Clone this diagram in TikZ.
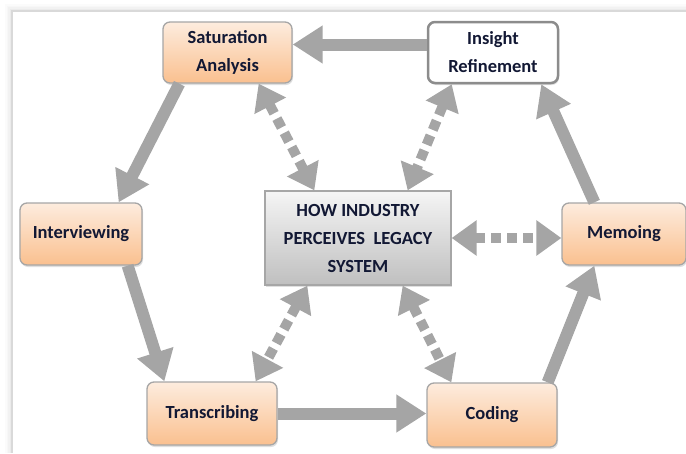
\documentclass[tikz,border=0pt]{standalone}
\usepackage{fontspec}
\setmainfont{Carlito}
\usepackage{tikz}
\usetikzlibrary{arrows.meta,shadows}
\definecolor{boxorange}{RGB}{250,192,143}
\definecolor{boxpale}{RGB}{253,236,222}
\definecolor{boxedge}{RGB}{166,166,166}
\definecolor{arrowgray}{RGB}{165,165,165}
\definecolor{textnavy}{RGB}{18,24,52}
\tikzset{
  stepbox/.style={rectangle, rounded corners=7pt, draw=boxedge, line width=1.3pt,
    top color=boxpale, bottom color=boxorange, text=textnavy, align=center,
    font=\fontsize{18.5}{28}\selectfont\bfseries,
    drop shadow={opacity=0.25, shadow xshift=1pt, shadow yshift=-2pt}},
  flow/.style={draw=arrowgray, line width=12pt,
    -{Triangle[length=30pt,width=36pt]}, arrowgray},
  link/.style={draw=arrowgray, line width=10pt, dash pattern=on 10pt off 6pt,
    {Triangle[length=25pt,width=34pt]}-{Triangle[length=25pt,width=34pt]}, arrowgray}
}
\begin{document}
\begin{tikzpicture}[x=1pt, y=-1pt]
  \useasboundingbox (0,0) rectangle (686,453);
  \foreach \d/\o in {0/0.15,1.5/0.08,3/0.05,4.5/0.03,6/0.015}
    \draw[black, opacity=\o, line width=1.5pt] (12-\d,453) -- (12-\d,11-\d) -- (686,11-\d);

  \node[stepbox, minimum width=129pt, minimum height=61pt] (sat) at (227.5,52.5) {Saturation\\Analysis};
  \node[stepbox, minimum width=130pt, minimum height=61pt, top color=white, bottom color=white,
        draw=black!45, line width=2.5pt] (ins) at (493,52.5) {Insight\\Refinement};
  \node[stepbox, minimum width=122pt, minimum height=62pt] (int) at (81,234) {Interviewing};
  \node[stepbox, minimum width=124pt, minimum height=62pt] (mem) at (624,234) {Memoing};
  \node[stepbox, minimum width=130pt, minimum height=63pt] (tra) at (212,413.5) {Transcribing};
  \node[stepbox, minimum width=130pt, minimum height=64pt] (cod) at (492,415) {Coding};
  \node[stepbox, rounded corners=0pt, minimum width=186pt, minimum height=94pt,
        top color=black!4, bottom color=black!25] (hub) at (358,238)
        {HOW INDUSTRY\\PERCEIVES\ \ LEGACY\\SYSTEM};

  \draw[flow] ([yshift=8pt]ins.west) -- ([yshift=8pt]sat.east);
  \draw[flow] ([xshift=17pt]sat.south west) -- ([xshift=-24pt]int.north east);
  \draw[flow] ([xshift=-15pt]int.south east) -- ([xshift=18pt]tra.north west);
  \draw[flow] (tra.east) -- (tra.east -| cod.west);
  \draw[flow] ([xshift=-10pt]cod.north east) -- ([xshift=33pt]mem.south west);
  \draw[flow] ([xshift=33pt]mem.north west) -- ([xshift=-18pt]ins.south east);

  \draw[link] ([xshift=-34pt]sat.south east) -- ([xshift=50pt]hub.north west);
  \draw[link] ([xshift=25pt]ins.south west) -- ([xshift=-44pt]hub.north east);
  \draw[link] (hub.east) -- (hub.east -| mem.west);
  \draw[link] ([xshift=43pt]hub.south west) -- ([xshift=-22pt]tra.north east);
  \draw[link] ([xshift=-49pt]hub.south east) -- ([xshift=25pt]cod.north west);
\end{tikzpicture}
\end{document}
